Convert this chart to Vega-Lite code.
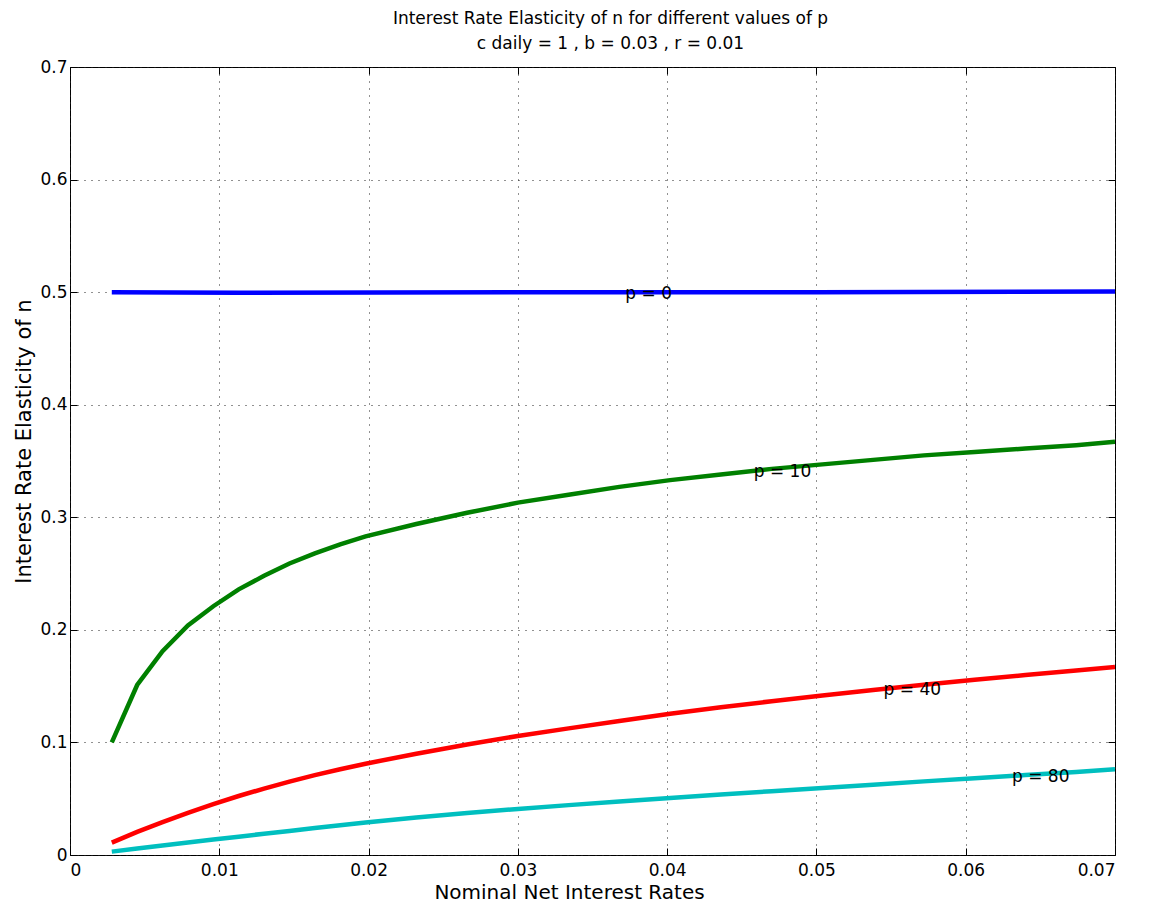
{
  "$schema": "https://vega.github.io/schema/vega-lite/v6.json",
  "width": 1045,
  "height": 788,
  "autosize": {"type": "none"},
  "padding": {"left": 70, "top": 67, "right": 37, "bottom": 54},
  "background": "white",
  "config": {
    "font": "DejaVu Sans",
    "view": {"stroke": "black", "strokeWidth": 1}
  },
  "title": {
    "text": ["Interest Rate Elasticity of n for different values of p", "c daily = 1 , b = 0.03 , r = 0.01"],
    "font": "DejaVu Sans",
    "fontSize": 17,
    "fontWeight": "normal",
    "lineHeight": 25,
    "offset": 5,
    "dx": 18,
    "anchor": "middle",
    "color": "black"
  },
  "datasets": {
    "curves": [
      {"p": "p = 0", "x": 0.0028, "y": 0.5},
      {"p": "p = 0", "x": 0.0113, "y": 0.4995},
      {"p": "p = 0", "x": 0.03, "y": 0.5},
      {"p": "p = 0", "x": 0.05, "y": 0.5},
      {"p": "p = 0", "x": 0.07, "y": 0.5005},
      {"p": "p = 10", "x": 0.0028, "y": 0.100},
      {"p": "p = 10", "x": 0.0045, "y": 0.151},
      {"p": "p = 10", "x": 0.0062, "y": 0.181},
      {"p": "p = 10", "x": 0.0079, "y": 0.204},
      {"p": "p = 10", "x": 0.0096, "y": 0.221},
      {"p": "p = 10", "x": 0.0113, "y": 0.236},
      {"p": "p = 10", "x": 0.013, "y": 0.248},
      {"p": "p = 10", "x": 0.0147, "y": 0.259},
      {"p": "p = 10", "x": 0.0164, "y": 0.268},
      {"p": "p = 10", "x": 0.0181, "y": 0.276},
      {"p": "p = 10", "x": 0.0198, "y": 0.283},
      {"p": "p = 10", "x": 0.0232, "y": 0.294},
      {"p": "p = 10", "x": 0.0266, "y": 0.304},
      {"p": "p = 10", "x": 0.03, "y": 0.313},
      {"p": "p = 10", "x": 0.0334, "y": 0.320},
      {"p": "p = 10", "x": 0.0368, "y": 0.327},
      {"p": "p = 10", "x": 0.0402, "y": 0.333},
      {"p": "p = 10", "x": 0.0436, "y": 0.338},
      {"p": "p = 10", "x": 0.047, "y": 0.343},
      {"p": "p = 10", "x": 0.0504, "y": 0.347},
      {"p": "p = 10", "x": 0.0538, "y": 0.351},
      {"p": "p = 10", "x": 0.0572, "y": 0.355},
      {"p": "p = 10", "x": 0.0606, "y": 0.358},
      {"p": "p = 10", "x": 0.064, "y": 0.361},
      {"p": "p = 10", "x": 0.0674, "y": 0.364},
      {"p": "p = 10", "x": 0.07, "y": 0.367},
      {"p": "p = 40", "x": 0.0028, "y": 0.0110},
      {"p": "p = 40", "x": 0.0045, "y": 0.0205},
      {"p": "p = 40", "x": 0.0062, "y": 0.0292},
      {"p": "p = 40", "x": 0.0079, "y": 0.0375},
      {"p": "p = 40", "x": 0.0096, "y": 0.0452},
      {"p": "p = 40", "x": 0.0113, "y": 0.0524},
      {"p": "p = 40", "x": 0.013, "y": 0.0590},
      {"p": "p = 40", "x": 0.0147, "y": 0.0652},
      {"p": "p = 40", "x": 0.0164, "y": 0.0709},
      {"p": "p = 40", "x": 0.0181, "y": 0.0762},
      {"p": "p = 40", "x": 0.0198, "y": 0.0811},
      {"p": "p = 40", "x": 0.0232, "y": 0.0900},
      {"p": "p = 40", "x": 0.0266, "y": 0.0982},
      {"p": "p = 40", "x": 0.03, "y": 0.1057},
      {"p": "p = 40", "x": 0.0334, "y": 0.1125},
      {"p": "p = 40", "x": 0.0368, "y": 0.1190},
      {"p": "p = 40", "x": 0.0402, "y": 0.1255},
      {"p": "p = 40", "x": 0.0436, "y": 0.1312},
      {"p": "p = 40", "x": 0.047, "y": 0.1366},
      {"p": "p = 40", "x": 0.0504, "y": 0.1416},
      {"p": "p = 40", "x": 0.0538, "y": 0.1465},
      {"p": "p = 40", "x": 0.0572, "y": 0.1512},
      {"p": "p = 40", "x": 0.0606, "y": 0.1556},
      {"p": "p = 40", "x": 0.064, "y": 0.1598},
      {"p": "p = 40", "x": 0.0674, "y": 0.1638},
      {"p": "p = 40", "x": 0.07, "y": 0.1670},
      {"p": "p = 80", "x": 0.0028, "y": 0.0030},
      {"p": "p = 80", "x": 0.0045, "y": 0.0057},
      {"p": "p = 80", "x": 0.0062, "y": 0.0084},
      {"p": "p = 80", "x": 0.0079, "y": 0.0111},
      {"p": "p = 80", "x": 0.0096, "y": 0.0137},
      {"p": "p = 80", "x": 0.0113, "y": 0.0163},
      {"p": "p = 80", "x": 0.013, "y": 0.0189},
      {"p": "p = 80", "x": 0.0147, "y": 0.0214},
      {"p": "p = 80", "x": 0.0164, "y": 0.0239},
      {"p": "p = 80", "x": 0.0181, "y": 0.0264},
      {"p": "p = 80", "x": 0.0198, "y": 0.0289},
      {"p": "p = 80", "x": 0.0232, "y": 0.0333},
      {"p": "p = 80", "x": 0.0266, "y": 0.0373},
      {"p": "p = 80", "x": 0.03, "y": 0.0409},
      {"p": "p = 80", "x": 0.0334, "y": 0.0443},
      {"p": "p = 80", "x": 0.0368, "y": 0.0475},
      {"p": "p = 80", "x": 0.0402, "y": 0.0507},
      {"p": "p = 80", "x": 0.0436, "y": 0.0537},
      {"p": "p = 80", "x": 0.047, "y": 0.0567},
      {"p": "p = 80", "x": 0.0504, "y": 0.0596},
      {"p": "p = 80", "x": 0.0538, "y": 0.0625},
      {"p": "p = 80", "x": 0.0572, "y": 0.0654},
      {"p": "p = 80", "x": 0.0606, "y": 0.0682},
      {"p": "p = 80", "x": 0.064, "y": 0.0710},
      {"p": "p = 80", "x": 0.0674, "y": 0.0738},
      {"p": "p = 80", "x": 0.07, "y": 0.0762}
    ],
    "labels": [
      {"label": "p = 0", "x": 0.0372, "y": 0.498},
      {"label": "p = 10", "x": 0.0458, "y": 0.340},
      {"label": "p = 40", "x": 0.0545, "y": 0.1465},
      {"label": "p = 80", "x": 0.0631, "y": 0.069}
    ]
  },
  "layer": [
    {
      "data": {"name": "curves"},
      "mark": {"type": "line", "strokeWidth": 4.5, "clip": true},
      "encoding": {
        "x": {
          "field": "x", "type": "quantitative",
          "scale": {"domain": [0, 0.07], "nice": false, "zero": false},
          "axis": {
            "values": [0, 0.01, 0.02, 0.03, 0.04, 0.05, 0.06, 0.07],
            "labelExpr": "datum.value == 0 ? '0' : format(datum.value, '.2f')",
            "title": "Nominal Net Interest Rates",
            "titleFont": "DejaVu Sans", "titleFontSize": 20, "titleFontWeight": "normal", "titleColor": "black", "titlePadding": 4,
            "titleX": 499,
            "labelFont": "DejaVu Sans", "labelFontSize": 17, "labelColor": "black", "labelPadding": 14,
            "tickSize": -7, "tickColor": "black", "domain": false,
            "grid": true, "gridColor": "#222222", "gridDash": [1, 6], "gridWidth": 1
          }
        },
        "y": {
          "field": "y", "type": "quantitative",
          "scale": {"domain": [0, 0.7], "nice": false, "zero": false},
          "axis": {
            "values": [0, 0.1, 0.2, 0.3, 0.4, 0.5, 0.6, 0.7],
            "labelExpr": "datum.value == 0 ? '0' : format(datum.value, '.1f')",
            "title": "Interest Rate Elasticity of n",
            "titleFont": "DejaVu Sans", "titleFontSize": 21, "titleFontWeight": "normal", "titleColor": "black", "titlePadding": 5,
            "titleY": 374,
            "labelFont": "DejaVu Sans", "labelFontSize": 17, "labelColor": "black", "labelPadding": 10,
            "tickSize": -7, "tickColor": "black", "domain": false,
            "grid": true, "gridColor": "#222222", "gridDash": [1, 6], "gridWidth": 1
          }
        },
        "color": {
          "field": "p", "type": "nominal",
          "scale": {"domain": ["p = 0", "p = 10", "p = 40", "p = 80"], "range": ["#0000ff", "#008000", "#ff0000", "#00bfbf"]},
          "legend": null
        },
        "order": {"field": "x", "type": "quantitative"}
      }
    },
    {
      "data": {"name": "labels"},
      "mark": {"type": "text", "align": "left", "baseline": "middle", "fontSize": 17, "font": "DejaVu Sans", "color": "black"},
      "encoding": {
        "x": {
          "field": "x", "type": "quantitative",
          "scale": {"domain": [0, 0.07], "nice": false, "zero": false},
          "axis": {"orient": "top", "values": [0, 0.01, 0.02, 0.03, 0.04, 0.05, 0.06, 0.07], "labels": false, "title": null, "grid": false, "domain": false, "tickSize": -7, "tickColor": "black"}
        },
        "y": {
          "field": "y", "type": "quantitative",
          "scale": {"domain": [0, 0.7], "nice": false, "zero": false},
          "axis": {"orient": "right", "values": [0, 0.1, 0.2, 0.3, 0.4, 0.5, 0.6, 0.7], "labels": false, "title": null, "grid": false, "domain": false, "tickSize": -7, "tickColor": "black"}
        },
        "text": {"field": "label"}
      }
    }
  ],
  "resolve": {"axis": {"x": "independent", "y": "independent"}}
}
